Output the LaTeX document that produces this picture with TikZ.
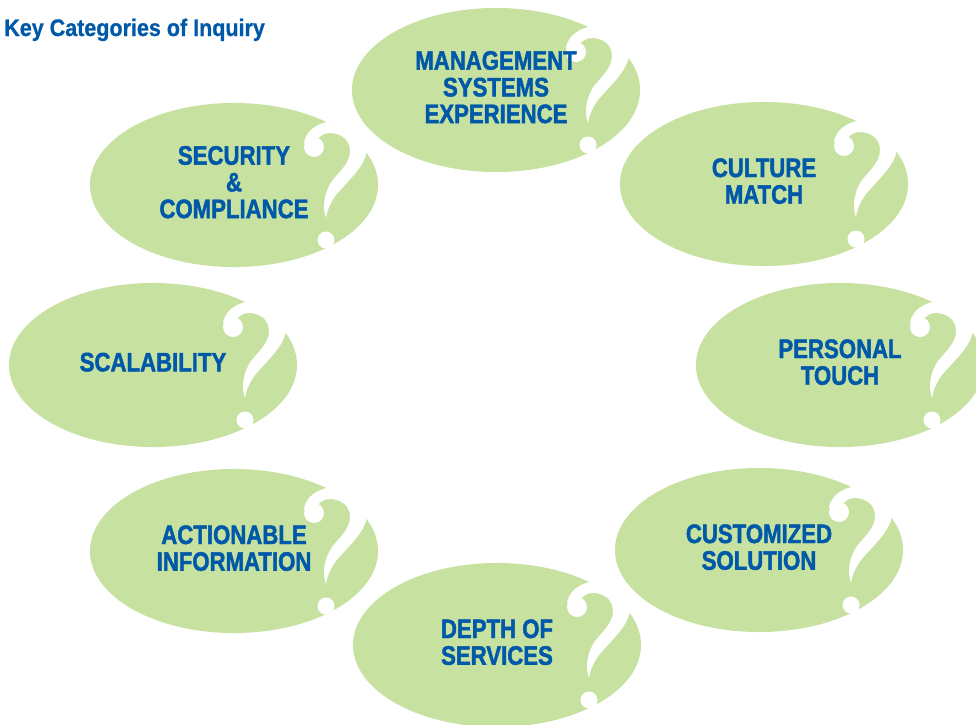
\documentclass[tikz,border=0pt]{standalone}
\usepackage{fontspec}
\setmainfont{Liberation Sans}
\newfontfamily\catfont{Liberation Sans}[FakeStretch=0.83, FakeBold=1.6]
\newfontfamily\headfont{Liberation Sans}[FakeStretch=0.9, FakeBold=0.8]
\usetikzlibrary{shapes.geometric}
\definecolor{leaf}{RGB}{198,225,160}
\definecolor{inkblue}{RGB}{0,88,168}
% white question mark, in pixel offsets from the bubble centre
\newcommand{\qmarkpath}{%
	(70,-42) .. controls (72,-58) and (92,-66) .. (108,-64)
	.. controls (126,-62) and (138,-48) .. (132,-30)
	.. controls (128,-16) and (112,-2) .. (102,10)
	.. controls (96,18) and (93,26) .. (92,33)
	.. controls (88,22) and (90,8) .. (98,-4)
	.. controls (106,-14) and (116,-22) .. (116,-34)
	.. controls (116,-46) and (106,-52) .. (96,-52)
	.. controls (90,-52) and (86,-49) .. (84,-46) -- cycle
	(80,-38) circle[radius=10]
	(92,55) circle[radius=8.5]}
\tikzset{bubble/.style={ellipse, fill=leaf, minimum width=7.2cm, minimum height=4.1cm, inner sep=0pt}}
\tikzset{cat/.style={align=center, text=inkblue, inner sep=0pt, yshift=2pt, font=\catfont\bfseries\fontsize{19}{19}\selectfont}}

\begin{document}
\begin{tikzpicture}[x=0.025cm, y=-0.025cm]
		\useasboundingbox (0,0) rectangle (976,725);
		
		\node[anchor=base west, text=inkblue, inner sep=0pt, font=\headfont\bfseries\fontsize{17}{17}\selectfont] (title) at (4,36) {Key Categories of Inquiry};
		
		\node[bubble] (mgmt) at (496,90) {};
		\node[bubble] (culture) at (764,184) {};
		\node[bubble] (personal) at (840,365) {};
		\node[bubble] (custom) at (759,550) {};
		\node[bubble] (depth) at (497,645) {};
		\node[bubble] (action) at (234,551) {};
		\node[bubble] (scale) at (153,365) {};
		\node[bubble] (secure) at (234,185) {};
		
		\foreach \b in {mgmt,culture,personal,custom,depth,action,scale,secure}
			\fill[white, shift={(\b.center)}] \qmarkpath;
		
		\node[cat] (mgmt-t) at (mgmt) {MANAGEMENT\\SYSTEMS\\EXPERIENCE};
		\node[cat] (culture-t) at (culture) {CULTURE\\MATCH};
		\node[cat] (personal-t) at (personal) {PERSONAL\\TOUCH};
		\node[cat] (custom-t) at (custom) {CUSTOMIZED\\SOLUTION};
		\node[cat] (depth-t) at (depth) {DEPTH OF\\SERVICES};
		\node[cat] (action-t) at (action) {ACTIONABLE\\INFORMATION};
		\node[cat] (scale-t) at (scale) {SCALABILITY};
		\node[cat] (secure-t) at (secure) {SECURITY\\\&\\COMPLIANCE};
	\end{tikzpicture}
\end{document}
